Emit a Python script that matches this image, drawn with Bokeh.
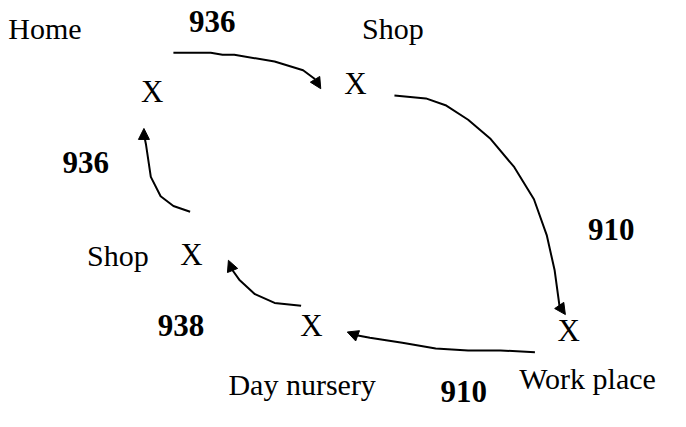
from bokeh.plotting import figure
from bokeh.models import Range1d, Arrow, NormalHead
from bokeh.core.properties import value
from bokeh.embed import file_html
from bokeh.resources import INLINE

# Place labels (reference pixel coordinates, baseline of text)
place_names = ["Home", "Shop", "Shop", "Day nursery", "Work place"]
place_x = [12, 372, 92, 236, 532]
place_y = [45, 45, 279, 412, 406]

# Location markers
marker_x = [147, 354, 187, 309, 571]
marker_y = [110, 102, 278, 352, 357]

# Trip counts
count_labels = ["936", "910", "910", "938", "936"]
count_x = [196, 602, 452, 164, 67]
count_y = [38, 253, 420, 352, 183]

# Curved trip paths (each ends at arrow tip)
path_home_shop_x = [180, 218, 230, 242, 283, 312, 324, 330]
path_home_shop_y = [59, 59, 61, 61, 68, 77, 86, 96]
path_shop_work_x = [405, 437, 457, 480, 503, 527, 547, 560, 568, 573, 575, 579]
path_shop_work_y = [103, 106, 113, 128, 148, 177, 210, 247, 283, 320, 323, 329]
path_work_day_x = [548, 513, 480, 447, 413, 380, 365, 357]
path_work_day_y = [368, 366, 366, 364, 358, 353, 350, 347]
path_day_shop_x = [310, 283, 263, 247, 240, 236]
path_day_shop_y = [320, 317, 308, 293, 283, 273]
path_shop_home_x = [197, 180, 167, 157, 152, 150, 150]
path_shop_home_y = [223, 217, 207, 187, 153, 143, 137]

paths = [
    (path_home_shop_x, path_home_shop_y),
    (path_shop_work_x, path_shop_work_y),
    (path_work_day_x, path_work_day_y),
    (path_day_shop_x, path_day_shop_y),
    (path_shop_home_x, path_shop_home_y),
]

p = figure(width=670, height=411, output_backend="svg", toolbar_location=None,
           x_range=Range1d(4, 686), y_range=Range1d(429, 5), min_border=0)
p.axis.visible = False
p.grid.visible = False
p.outline_line_color = None
p.background_fill_color = "white"
p.border_fill_color = "white"

font = value("Liberation Serif")
dy = -11

p.text(x=place_x, y=place_y, text=place_names, text_font=font,
       text_font_size="30px", text_baseline="alphabetic", text_align="left",
       text_color="black", y_offset=dy)
p.text(x=marker_x, y=marker_y, text=["X"] * len(marker_x), text_font=font,
       text_font_size="31px", text_baseline="alphabetic", text_align="left",
       text_color="black", y_offset=dy)
p.text(x=count_x, y=count_y, text=count_labels, text_font=font,
       text_font_size="31px", text_font_style="bold", text_baseline="alphabetic",
       text_align="left", text_color="black", y_offset=dy)

for xs, ys in paths:
    p.line(xs[:-1], ys[:-1], line_color="black", line_width=2)
    p.add_layout(Arrow(end=NormalHead(size=11, fill_color="black", line_color="black", line_width=1),
                       x_start=xs[-2], y_start=ys[-2], x_end=xs[-1], y_end=ys[-1],
                       line_color="black", line_width=2))

open("out.html", "w").write(file_html(p, INLINE))
